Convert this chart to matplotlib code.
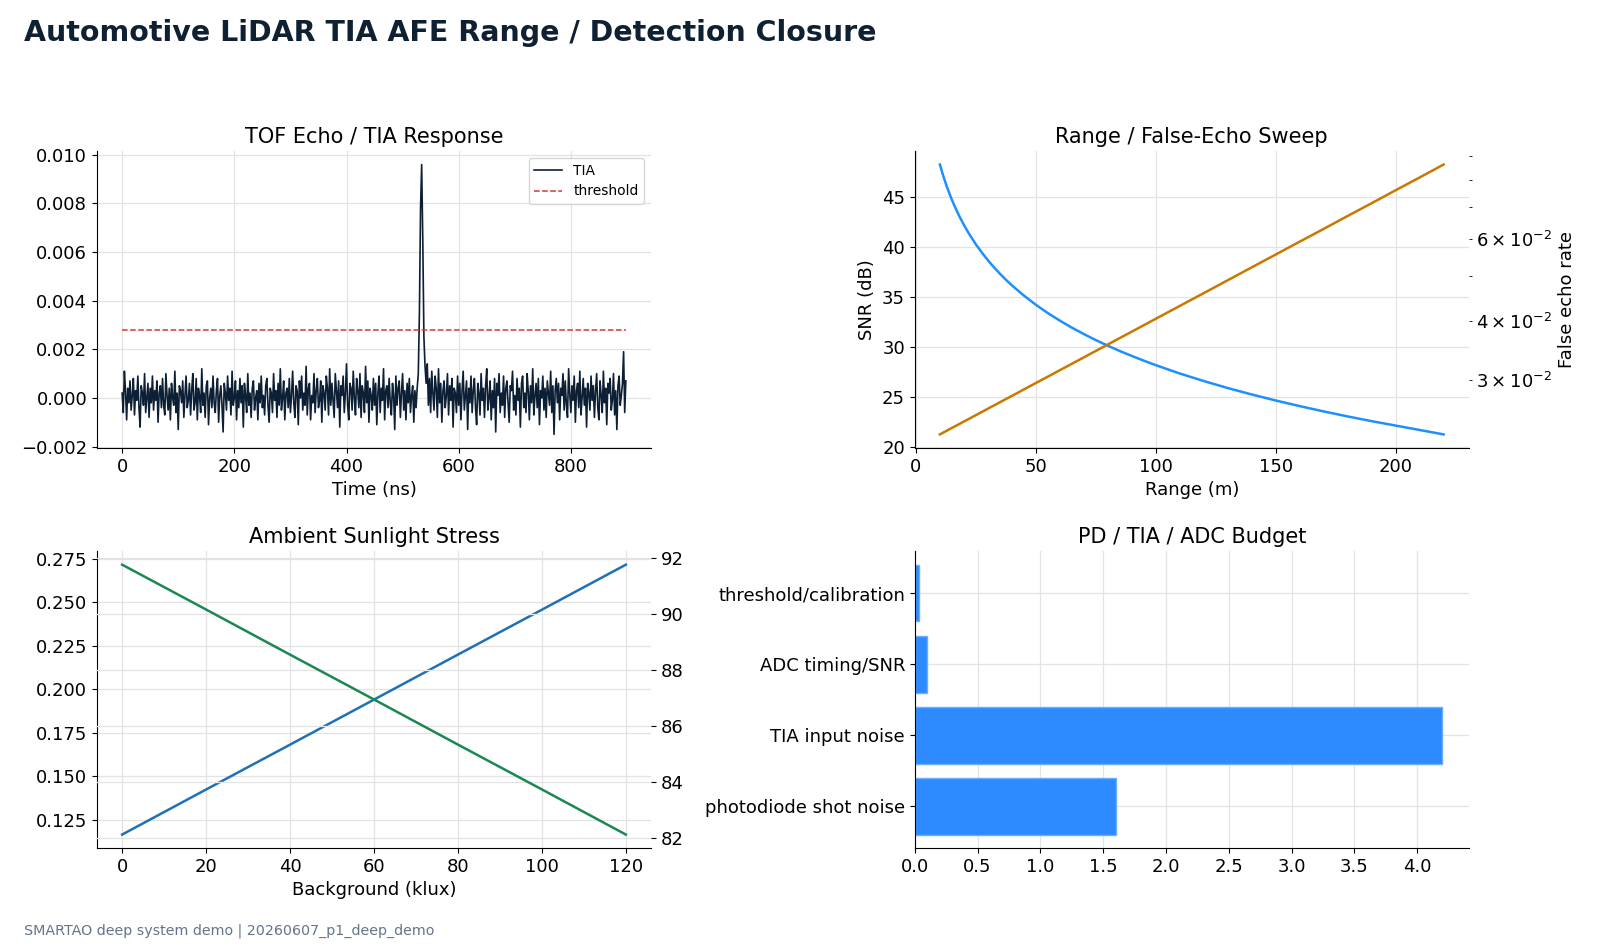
import numpy as np
import matplotlib
matplotlib.use('Agg')
import matplotlib.pyplot as plt

plt.rcParams['font.family'] = 'DejaVu Sans'
plt.rcParams['font.size'] = 13

# TOF echo trace: one sample every 2 ns, values in units of 0.1 mV
tof_step_ns = 2
tia_01mv = [
    2, -6, 11, 3, -9, 4, -2, 7, -5, 1, 8, -7, 3, -1, 9, -4, -12, 5, 2, -3, 10, -6, 0, 6, -8, 4, -2, 9, -5, 3,
    -1, 7, -10, 2, 5, -4, 8, -3, -7, 10, 1, -5, 4, -9, 6, 0, -3, 11, -6, 2, -13, 5, 3, -2, 7, -8, 1, 9, -4, -1,
    6, -7, 3, 10, -5, -2, 8, -9, 4, 1, -6, 12, -3, 2, -8, 5, 7, -11, 0, 4, -4, 9, -2, -6, 3, 8, -10, 1, 5, -3,
    -14, 6, 2, -5, 9, -1, 4, -7, 11, -3, 0, 7, -9, 3, -4, 8, -2, 5, -12, 6, 1, -6, 10, -3, 2, -8, 4, 7, -5, 0,
    3, -9, 6, -2, 9, -4, 1, -7, 5, 8, -3, -10, 4, 2, -6, 10, -1, 3, -8, 6, -3, 12, -5, 0, 7, -9, 2, 4, -4, 8,
    -6, 1, 11, -2, -8, 5, 3, -11, 7, 0, 9, -5, 2, -3, 13, -7, 4, 6, -9, 1, -2, 10, -6, 3, 8, -4, -1, 7, -10, 5,
    2, -5, 9, 4, -7, 12, -3, 6, -1, -8, 10, 3, -4, 7, -12, 5, 1, 9, -6, 2, 14, -3, -9, 6, 4, -5, 11, 0, -7, 8,
    3, -4, 10, -8, 5, 2, -6, 13, -2, 7, -10, 4, 1, -5, 8, -3, 6, -11, 2, 9, -6, 4, -1, 12, -9, 3, 5, -4, 8, -2,
    -7, 6, 1, -13, 9, -3, 4, 7, -8, 2, 10, -5, 3, -9, 6, -2, 8, -6, 1, 5, -10, 3, -4, 4, 10, 35, 78, 96, 65, 25,
    13, 6, 14, -3, 8, -6, 11, 2, -5, 9, 4, -8, 12, -2, 6, -10, 3, 7, -4, 1, 10, -7, 5, -1, 8, -12, 4, 2, -6, 9,
    -3, 6, -9, 3, 11, -5, 1, 7, -13, 4, -2, 9, -6, 3, 8, -4, -11, 6, 2, -7, 10, -1, 4, -8, 5, 12, -5, 0, 7, -9,
    3, -4, 8, -14, 6, 1, 10, -6, 2, -3, 9, -8, 4, 7, -2, -10, 5, 3, 11, -5, 1, -7, 8, -1, 4, -12, 6, 9, -4, 2,
    -6, 10, 3, -9, 5, -2, 12, -7, 1, 6, -4, 8, -11, 3, 0, 9, -5, 4, -8, 7, 2, -3, 11, -6, 5, -15, 3, 8, -2, 6,
    -9, 4, 1, 10, -5, 7, -3, -8, 12, 2, -6, 5, -1, 9, -10, 3, 6, -4, 11, -7, 0, 8, -3, 4, -12, 6, 2, -5, 9, -1,
    5, -8, 3, 10, -4, -9, 7, 1, -6, 11, -2, 4, -11, 6, 2, 8, -5, -1, 10, -7, 3, -13, 5, 9, -3, 1, 6, 19, -6, 7,
]
threshold_v = 0.0028

# range sweep
range_m = [10, 11, 12, 13, 14, 15, 16, 18, 20, 22, 25, 28, 30, 32, 35, 38, 40, 45, 50, 55, 60, 65,
           70, 75, 80, 85, 90, 95, 100, 110, 120, 130, 140, 150, 160, 170, 180, 190, 200, 210, 220]
snr_db = [48.2, 47.37, 46.62, 45.92, 45.28, 44.68, 44.12, 43.09, 42.18, 41.35, 40.24, 39.26, 38.66,
          38.1, 37.32, 36.6, 36.16, 35.14, 34.22, 33.39, 32.64, 31.94, 31.3, 30.7, 30.14, 29.61,
          29.12, 28.65, 28.2, 27.37, 26.62, 25.92, 25.28, 24.68, 24.12, 23.59, 23.09, 22.62, 22.18,
          21.74, 21.3]
false_echo = [0.02290, 0.02305, 0.02319, 0.02334, 0.02349, 0.02364, 0.02379, 0.02409, 0.02440,
              0.02470, 0.02518, 0.02566, 0.02599, 0.02632, 0.02682, 0.02734, 0.02768, 0.02857,
              0.02949, 0.03043, 0.03141, 0.03242, 0.03346, 0.03454, 0.03565, 0.03680, 0.03798,
              0.03920, 0.04046, 0.04310, 0.04591, 0.04891, 0.05211, 0.05551, 0.05914, 0.06298,
              0.06712, 0.07147, 0.07617, 0.08112, 0.08645]

# ambient sunlight
background_klux = [0, 20, 40, 60, 80, 100, 120]
ambient_left = [0.1164, 0.1423, 0.1681, 0.1940, 0.2199, 0.2457, 0.2716]
ambient_right = [91.77, 90.17, 88.56, 86.96, 85.35, 83.75, 82.14]

# budget
budget_labels = ['photodiode shot noise', 'TIA input noise', 'ADC timing/SNR', 'threshold/calibration']
budget_values = [1.6, 4.2, 0.1, 0.03]

grid_kw = dict(color='#e3e3e3', linewidth=0.9)


def style(ax):
    ax.spines['top'].set_visible(False)
    ax.spines['right'].set_visible(False)
    ax.grid(True, **grid_kw)
    ax.set_axisbelow(True)


fig, axes = plt.subplots(2, 2, figsize=(16, 9.47), dpi=100)
fig.subplots_adjust(left=0.0606, right=0.918, top=0.8405, bottom=0.1045, wspace=0.476, hspace=0.348)

# TOF echo
ax = axes[0, 0]
tia = np.array(tia_01mv) * 1e-4
t_ns = np.arange(len(tia)) * tof_step_ns
ax.plot(t_ns, tia, color='#0d1f35', lw=1.2, label='TIA')
ax.plot([t_ns[0], t_ns[-1]], [threshold_v, threshold_v], color='#d03a3a', lw=1.1, ls='--', label='threshold')
ax.set_title('TOF Echo / TIA Response', fontsize=15)
ax.set_xlabel('Time (ns)')
style(ax)
ax.legend(loc='upper right', fontsize=10)

# range sweep
ax = axes[0, 1]
ax.plot(range_m, snr_db, color='#1e8fff', lw=1.8)
ax.set_title('Range / False-Echo Sweep', fontsize=15)
ax.set_xlabel('Range (m)')
ax.set_ylabel('SNR (dB)')
ax.set_xticks([0, 50, 100, 150, 200])
style(ax)
ax2 = ax.twinx()
ax2.plot(range_m, false_echo, color='#c97800', lw=1.8)
ax2.set_yscale('log')
ax2.set_ylabel('False echo rate')
for s in ax2.spines.values():
    s.set_visible(False)

# ambient sunlight
ax = axes[1, 0]
ax.plot(background_klux, ambient_left, color='#1f70b5', lw=1.8)
ax.set_title('Ambient Sunlight Stress', fontsize=15)
ax.set_xlabel('Background (klux)')
style(ax)
ax3 = ax.twinx()
ax3.plot(background_klux, ambient_right, color='#1b8752', lw=1.8)
ax3.grid(True, **grid_kw)
ax3.set_axisbelow(True)
for s in ax3.spines.values():
    s.set_visible(False)

# budget
ax = axes[1, 1]
ax.barh(budget_labels, budget_values, color='#2e8bff', edgecolor='#6aaeff', lw=1)
ax.set_title('PD / TIA / ADC Budget', fontsize=15)
style(ax)

fig.text(0.0153, 0.965, 'Automotive LiDAR TIA AFE Range / Detection Closure', fontsize=20.5,
         fontweight='bold', color='#0f2033', va='center', ha='left')
fig.text(0.0153, 0.0175, 'SMARTAO deep system demo | 20260607_p1_deep_demo', fontsize=10.3,
         color='#64748b', va='center', ha='left')

fig.savefig('out.png', dpi=100)
